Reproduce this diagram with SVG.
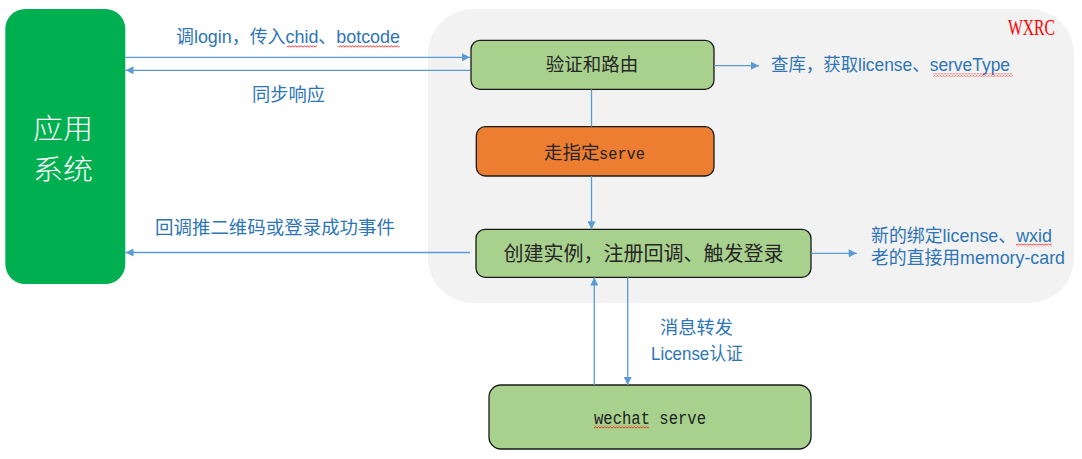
<svg xmlns="http://www.w3.org/2000/svg" width="1082" height="459" viewBox="0 0 1082 459">
<style>
.node{stroke:#1a1a1a;stroke-width:1.3}
.green{fill:#A9D18E}
.orange{fill:#ED7D31}
.ntext{font-family:"Noto Sans CJK SC",sans-serif;font-size:18.5px;fill:#262626}
.mono{font-family:"Liberation Mono",monospace;font-size:16px;fill:#222}
.lbl{font-family:"Liberation Sans","Noto Sans CJK SC",sans-serif;font-size:18.5px;fill:#2E75B6}
.conn{stroke:#5B9BD5;stroke-width:1.3;fill:none}
.sq{fill:url(#squig)}
.app{font-family:"Noto Sans CJK SC",sans-serif;font-size:28px;font-weight:300;fill:#FFFFFF}
</style>
<defs>
<marker id="arr" viewBox="0 0 10 10" refX="10" refY="5" markerWidth="9" markerHeight="8" markerUnits="userSpaceOnUse" orient="auto">
<path d="M0,0 L10,5 L0,10 z" fill="#5B9BD5"/>
</marker>
<pattern id="squig" width="3" height="3" patternUnits="userSpaceOnUse">
<path d="M0,2.2 L1.5,0.8 L3,2.2" stroke="#FF0000" stroke-width="0.8" fill="none"/>
</pattern>
</defs>
<g id="wxrc-container">
<rect x="428" y="9" width="646" height="294" rx="45" fill="#F2F2F2"/>
<text x="1008" y="35" font-family="Liberation Serif,serif" font-size="23" fill="#FF0000" textLength="47" lengthAdjust="spacingAndGlyphs">WXRC</text>
</g>
<g id="app-system">
<rect x="5.3" y="9" width="120" height="275" rx="20" fill="#00B050"/>
<text class="app" x="63" y="139" text-anchor="middle" textLength="60" lengthAdjust="spacingAndGlyphs">应用</text>
<text class="app" x="63" y="180" text-anchor="middle" textLength="60" lengthAdjust="spacingAndGlyphs">系统</text>
</g>
<g id="verify-route">
<rect class="node green" x="471" y="40.3" width="243" height="49" rx="9"/>
<text class="ntext" x="592" y="71" text-anchor="middle">验证和路由</text>
</g>
<g id="route-serve">
<rect class="node orange" x="476.3" y="126.7" width="237.7" height="49.3" rx="9"/>
<text x="544" y="159"><tspan class="ntext">走指定</tspan><tspan class="mono" x="599" textLength="46" lengthAdjust="spacingAndGlyphs" style="font-size:17px">serve</tspan></text>
</g>
<g id="create-instance">
<rect class="node green" x="476" y="229.3" width="335" height="48" rx="9"/>
<text class="ntext" x="643.5" y="261" text-anchor="middle" style="font-size:20px">创建实例，注册回调、触发登录</text>
</g>
<g id="wechat-serve">
<rect class="node green" x="489" y="385" width="322" height="64" rx="12"/>
<text class="mono" x="594" y="424" textLength="112" lengthAdjust="spacingAndGlyphs" style="font-size:18px">wechat serve</text>
<rect class="sq" x="594" y="425.5" width="55" height="3"/>
</g>
<g id="connectors">
<line class="conn" x1="125.5" y1="57.3" x2="470" y2="57.3" marker-end="url(#arr)"/>
<line class="conn" x1="470" y1="70.3" x2="125.5" y2="70.3" marker-end="url(#arr)"/>
<line class="conn" x1="714" y1="65.7" x2="759" y2="65.7" marker-end="url(#arr)"/>
<line class="conn" x1="591.5" y1="89.3" x2="591.5" y2="126.7"/>
<line class="conn" x1="591.5" y1="176" x2="591.5" y2="229.3" marker-end="url(#arr)"/>
<line class="conn" x1="470" y1="252.5" x2="125.5" y2="252.5" marker-end="url(#arr)"/>
<line class="conn" x1="811" y1="253.3" x2="856.7" y2="253.3" marker-end="url(#arr)"/>
<line class="conn" x1="594.3" y1="385" x2="594.3" y2="277.5" marker-end="url(#arr)"/>
<line class="conn" x1="627.7" y1="277.3" x2="627.7" y2="385" marker-end="url(#arr)"/>
</g>
<g id="labels">
<text class="lbl" x="176" y="43" textLength="224" lengthAdjust="spacingAndGlyphs">调login，传入chid、botcode</text>
<rect class="sq" x="287" y="45" width="30" height="3"/>
<rect class="sq" x="338.5" y="45" width="61" height="3"/>
<text class="lbl" x="252" y="101" textLength="73" lengthAdjust="spacingAndGlyphs">同步响应</text>
<text class="lbl" x="771" y="71" textLength="239" lengthAdjust="spacingAndGlyphs">查库，获取license、serveType</text>
<rect class="sq" x="933" y="73.5" width="80" height="3"/>
<text class="lbl" x="155" y="234" textLength="240" lengthAdjust="spacingAndGlyphs">回调推二维码或登录成功事件</text>
<text class="lbl" x="871" y="242" textLength="181" lengthAdjust="spacingAndGlyphs">新的绑定license、wxid</text>
<rect class="sq" x="1016" y="243.5" width="36" height="3"/>
<text class="lbl" x="871" y="263.5" textLength="194" lengthAdjust="spacingAndGlyphs">老的直接用memory-card</text>
<text class="lbl" x="660" y="334" textLength="73" lengthAdjust="spacingAndGlyphs">消息转发</text>
<text class="lbl" x="651" y="360" textLength="92" lengthAdjust="spacingAndGlyphs">License认证</text>
</g>
</svg>
